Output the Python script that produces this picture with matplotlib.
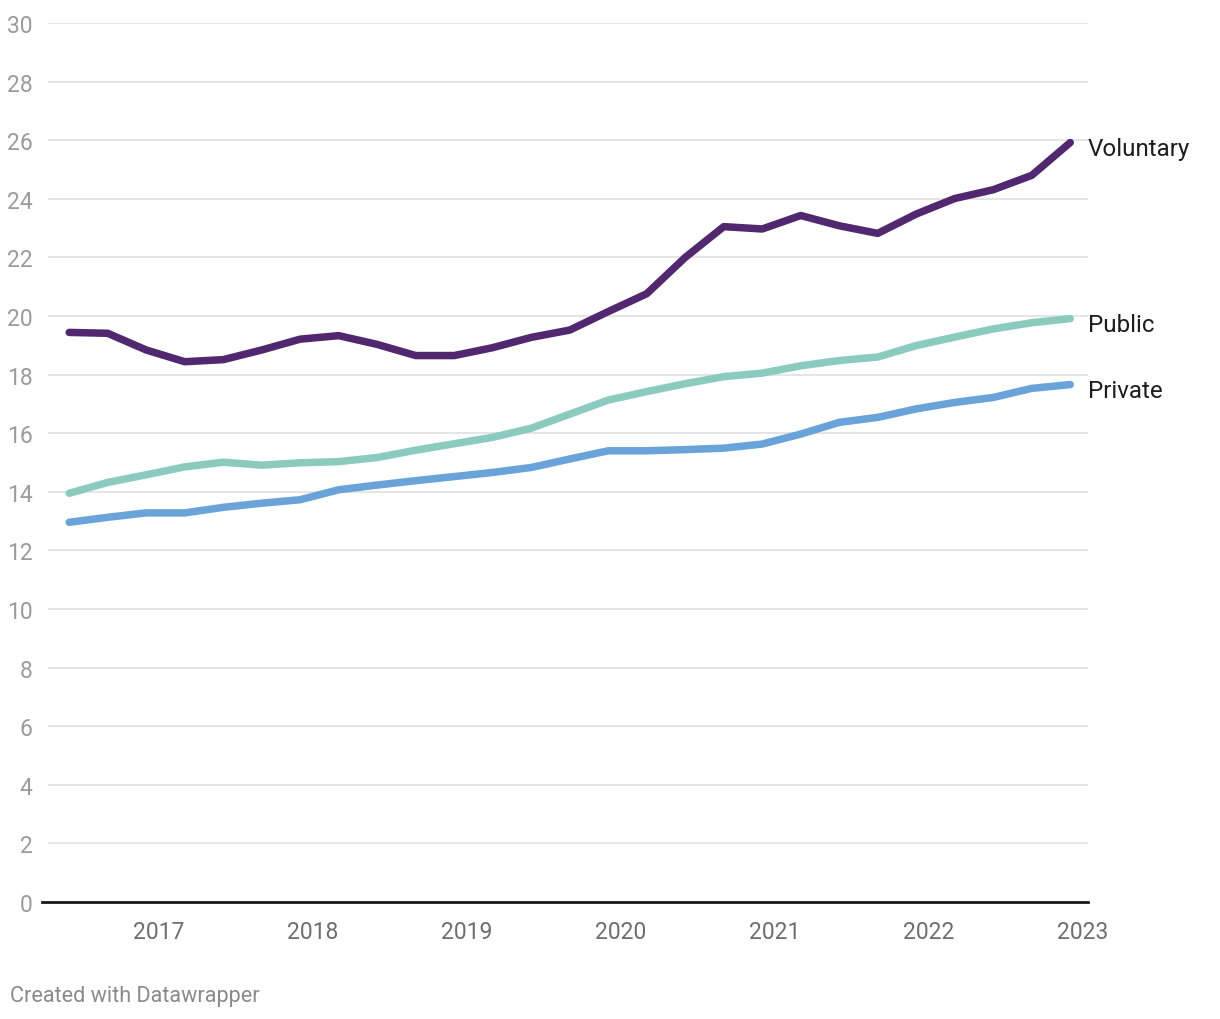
import matplotlib
matplotlib.use("Agg")
import matplotlib.pyplot as plt

plt.rcParams['font.family'] = ['Roboto', 'DejaVu Sans']

# Quarterly dates (decimal years), Jun 2016 .. Dec 2022
dates = [2016 + 5/12 + 0.25 * i for i in range(27)]

voluntary = [19.44, 19.41, 18.84, 18.44, 18.51, 18.84, 19.21, 19.33, 19.03, 18.65,
             18.65, 18.92, 19.27, 19.52, 20.15, 20.76, 22.00, 23.05, 22.97, 23.43,
             23.08, 22.82, 23.48, 24.01, 24.31, 24.80, 25.92]
public = [13.95, 14.32, 14.58, 14.85, 15.01, 14.91, 14.99, 15.03, 15.17, 15.42,
          15.64, 15.86, 16.17, 16.65, 17.13, 17.42, 17.69, 17.93, 18.05, 18.30,
          18.48, 18.60, 18.99, 19.28, 19.56, 19.77, 19.91]
private = [12.96, 13.13, 13.28, 13.28, 13.47, 13.61, 13.73, 14.07, 14.23, 14.38,
           14.52, 14.66, 14.83, 15.12, 15.40, 15.40, 15.44, 15.49, 15.63, 15.97,
           16.37, 16.54, 16.83, 17.05, 17.22, 17.53, 17.66]

series_names = ["Voluntary", "Public", "Private"]
series_values = [voluntary, public, private]
series_colors = ["#51286f", "#8bcbbf", "#6aa3d9"]

year_ticks = [2017, 2018, 2019, 2020, 2021, 2022, 2023]
year_labels = ["2017", "2018", "2019", "2020", "2021", "2022", "2023"]
y_ticks = list(range(0, 31, 2))

fig = plt.figure(figsize=(12.2, 10.2), dpi=100)
ax = fig.add_axes([48/1220, 1 - 903/1020, (1088 - 48)/1220, (903 - 24)/1020])

ax.set_xlim(2016.279, 2023.032)
ax.set_ylim(0, 30)

for s in ax.spines.values():
    s.set_visible(False)

ax.set_yticks(y_ticks)
ax.set_yticklabels([str(v) for v in y_ticks])
ax.set_xticks(year_ticks)
ax.set_xticklabels(year_labels)
ax.tick_params(axis='y', length=0, pad=11, labelsize=16.5, labelcolor="#9b9b9b")
ax.tick_params(axis='x', length=0, pad=13, labelsize=16.5, labelcolor="#6e6e6e")
ax.grid(axis='y', color="#e3e3e3", linewidth=1.3)
ax.grid(axis='x', visible=False)
ax.set_axisbelow(True)

ax.axhline(0, xmin=-0.006, xmax=1, color="#1a1a1a", linewidth=2.0, clip_on=False, zorder=2)

for name, vals, col in zip(series_names, series_values, series_colors):
    ax.plot(dates, vals, color=col, linewidth=5.4, solid_capstyle='round',
            solid_joinstyle='round', zorder=3)
    ax.annotate(name, xy=(dates[-1], vals[-1]), xytext=(12.5, -4), textcoords='offset points',
                ha='left', va='center', fontsize=17.4, color="#1d1d1d", annotation_clip=False)

fig.text(10/1220, 1 - 997/1020, "Created with Datawrapper", ha='left', va='center',
         fontsize=15.6, color="#8a8a8a")

fig.savefig("out.png", dpi=100, facecolor="white")
